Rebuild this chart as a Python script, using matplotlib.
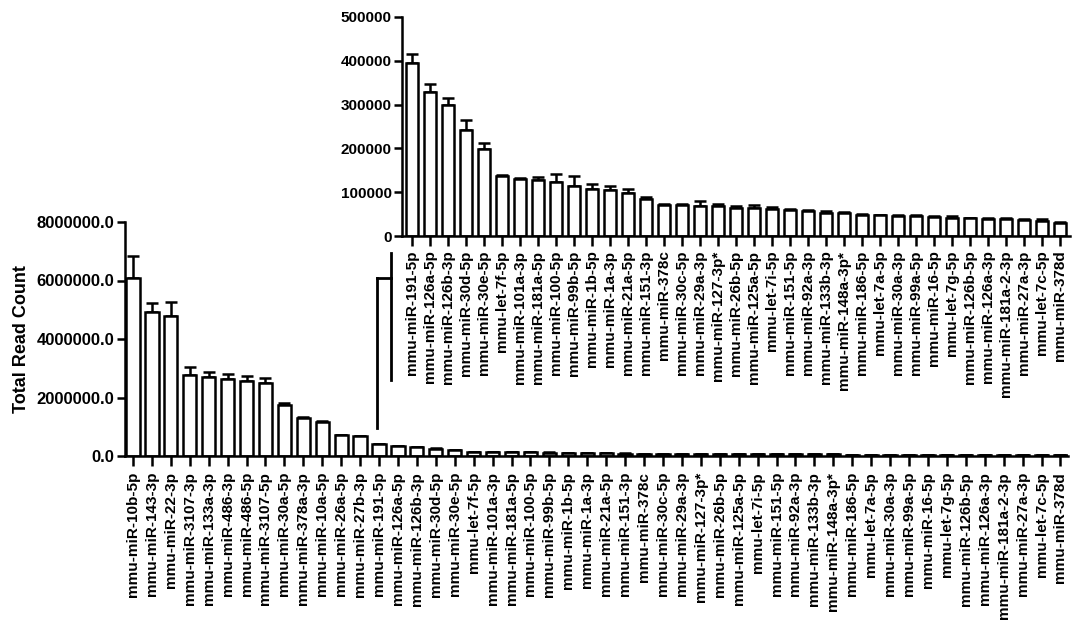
import numpy as np
import matplotlib
matplotlib.use("Agg")
import matplotlib.pyplot as plt
from matplotlib.lines import Line2D
from matplotlib.ticker import FuncFormatter

plt.rcParams['font.family'] = ['Liberation Sans', 'DejaVu Sans']
plt.rcParams['font.weight'] = 'bold'

# miRNA names, sorted by total read count
names = ["mmu-miR-10b-5p", "mmu-miR-143-3p", "mmu-miR-22-3p", "mmu-miR-3107-3p",
         "mmu-miR-133a-3p", "mmu-miR-486-3p", "mmu-miR-486-5p", "mmu-miR-3107-5p",
         "mmu-miR-30a-5p", "mmu-miR-378a-3p", "mmu-miR-10a-5p", "mmu-miR-26a-5p",
         "mmu-miR-27b-3p", "mmu-miR-191-5p", "mmu-miR-126a-5p", "mmu-miR-126b-3p",
         "mmu-miR-30d-5p", "mmu-miR-30e-5p", "mmu-let-7f-5p", "mmu-miR-101a-3p",
         "mmu-miR-181a-5p", "mmu-miR-100-5p", "mmu-miR-99b-5p", "mmu-miR-1b-5p",
         "mmu-miR-1a-3p", "mmu-miR-21a-5p", "mmu-miR-151-3p", "mmu-miR-378c",
         "mmu-miR-30c-5p", "mmu-miR-29a-3p", "mmu-miR-127-3p*", "mmu-miR-26b-5p",
         "mmu-miR-125a-5p", "mmu-let-7i-5p", "mmu-miR-151-5p", "mmu-miR-92a-3p",
         "mmu-miR-133b-3p", "mmu-miR-148a-3p*", "mmu-miR-186-5p", "mmu-let-7a-5p",
         "mmu-miR-30a-3p", "mmu-miR-99a-5p", "mmu-miR-16-5p", "mmu-let-7g-5p",
         "mmu-miR-126b-5p", "mmu-miR-126a-3p", "mmu-miR-181a-2-3p", "mmu-miR-27a-3p",
         "mmu-let-7c-5p", "mmu-miR-378d"]

reads = [6080000, 4910000, 4780000, 2780000, 2690000, 2640000, 2560000, 2500000,
         1760000, 1300000, 1150000, 710000, 680000,
         395000, 328000, 298000, 243000, 198000, 137000, 129000, 127000, 124000,
         114000, 108000, 104000, 99000, 85000, 70000, 70000, 69000, 68000, 65000,
         64000, 62000, 59000, 57000, 53000, 52000, 49000, 47000, 46000, 46000,
         44000, 42000, 40000, 39000, 38000, 36000, 35000, 29000]

sem = [760000, 320000, 500000, 270000, 170000, 170000, 180000, 170000,
       40000, 40000, 50000, 20000, 20000,
       20000, 20000, 17000, 21000, 14000, 3000, 3000, 7000, 18000,
       22000, 11000, 10000, 8000, 3000, 3000, 3000, 10000, 5000, 3000,
       7000, 4000, 3000, 3000, 3000, 3000, 2000, 2000, 2000, 3000,
       2000, 3000, 2000, 2000, 2000, 2000, 3000, 2000]

inset_start = names.index("mmu-miR-191-5p")

W, H = 1074, 631
fig = plt.figure(figsize=(W / 100, H / 100), dpi=100)


def px_axes(x0, y_top, x1, y_bot):
    return fig.add_axes([x0 / W, 1 - y_bot / H, (x1 - x0) / W, (y_bot - y_top) / H])


def style(ax, lw, xpad):
    for s in ["top", "right"]:
        ax.spines[s].set_visible(False)
    for s in ["left", "bottom"]:
        ax.spines[s].set_linewidth(lw)
    ax.tick_params(width=lw, length=6, pad=1.5, direction="out")
    ax.tick_params(axis="x", length=7, pad=xpad)


def draw_bars(ax, labels, vals, errs, width):
    x = np.arange(len(vals))
    ax.bar(x, vals, width=width, color="white", edgecolor="black", linewidth=1.8, zorder=2)
    ax.errorbar(x, vals, yerr=[np.zeros(len(errs)), errs], fmt="none", ecolor="black",
                elinewidth=1.8, capsize=4, capthick=1.8, zorder=1)
    ax.set_xticks(x)
    ax.set_xticklabels(labels, rotation=90, fontsize=11, fontweight="bold")
    return x


# main chart
ax = px_axes(125, 222, 1068, 456)
style(ax, 1.8, 4.5)
draw_bars(ax, names, reads, sem, 0.7)
ax.set_xlim(-0.42, 49.4)
ax.set_ylim(0, 8000000)
ax.set_yticks(np.arange(0, 8000001, 2000000))
ax.yaxis.set_major_formatter(FuncFormatter(lambda v, p: "%.1f" % v))
for t in ax.get_yticklabels():
    t.set_fontsize(12)
    t.set_fontweight("bold")
ax.set_ylabel("Total Read Count", fontsize=13, fontweight="bold", labelpad=5)

# inset: zoom on the lower-count miRNAs
ins = px_axes(402, 17, 1070, 236)
style(ins, 1.8, 3.5)
draw_bars(ins, names[inset_start:], reads[inset_start:], sem[inset_start:], 0.68)
ins.set_xlim(-0.55, 36.55)
ins.set_ylim(0, 500000)
ins.set_yticks(np.arange(0, 500001, 100000))
ins.yaxis.set_major_formatter(FuncFormatter(lambda v, p: "%d" % v))
for t in ins.get_yticklabels():
    t.set_fontsize(11)
    t.set_fontweight("bold")

# bracket linking main chart to the inset
def fline(xs, ys):
    fig.add_artist(Line2D([x / W for x in xs], [1 - y / H for y in ys],
                          color="black", linewidth=2, transform=fig.transFigure))

fline([377, 377], [278, 428])
fline([377, 391], [278, 278])
fline([391, 391], [253, 380])

fig.savefig("out.png", dpi=100)
